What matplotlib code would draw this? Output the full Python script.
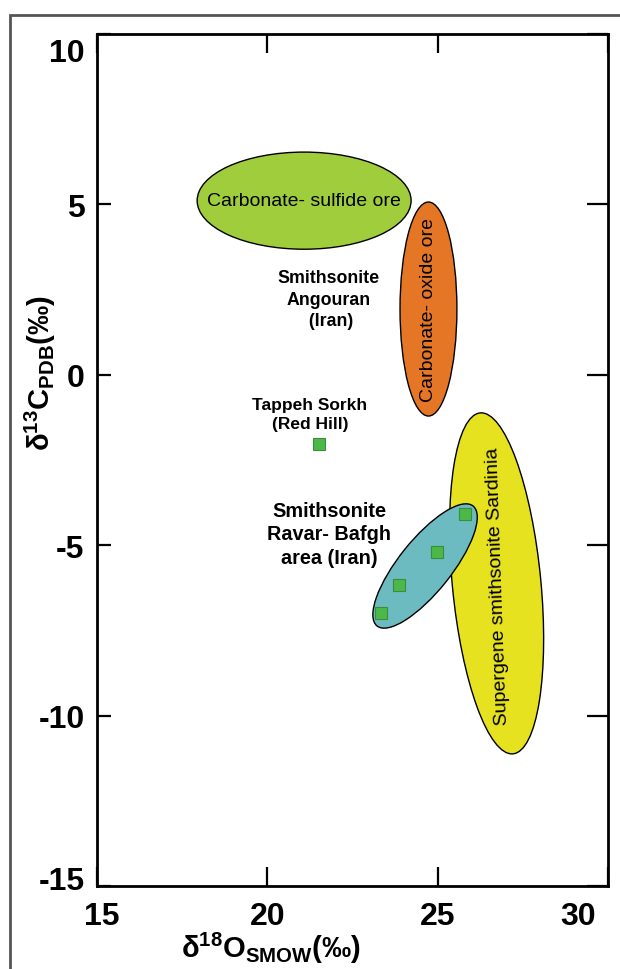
import matplotlib
matplotlib.use('Agg')
import matplotlib.pyplot as plt
from matplotlib.patches import Ellipse, Rectangle
from matplotlib.transforms import ScaledTranslation

plt.rcParams['font.family'] = ['Liberation Sans', 'DejaVu Sans']
plt.rcParams['mathtext.fontset'] = 'custom'
plt.rcParams['mathtext.bf'] = 'Liberation Sans:bold'
plt.rcParams['mathtext.rm'] = 'Liberation Sans:bold'
plt.rcParams['mathtext.default'] = 'bf'

# Smithsonite samples, Ravar-Bafgh area
ravar_d18o = [23.34, 23.86, 24.98, 25.80]
ravar_d13c = [-6.99, -6.17, -5.20, -4.08]
# Tappeh Sorkh (Red Hill)
tappeh_d18o = [21.52]
tappeh_d13c = [-2.03]

# isotope fields (ellipses): centre, width, height, angle
field_names = ['Carbonate- sulfide ore', 'Carbonate- oxide ore',
               'Supergene smithsonite Sardinia', '']
field_x = [21.08, 24.73, 26.73, 24.63]
field_y = [5.11, 1.93, -6.12, -5.61]
field_w = [6.28, 1.67, 10.05, 4.51]
field_h = [2.85, 6.28, 2.60, 1.54]
field_ang = [0, 0, 95.5, 51.3]
field_colors = ['#a0cd3c', '#e57625', '#e6e21f', '#6bbbc0']
field_text_rot = [0, 90, 92, 0]

xticks = [15, 20, 25, 30]
yticks = [10, 5, 0, -5, -10, -15]

fig = plt.figure(figsize=(6.2, 9.7), dpi=100)
ax = fig.add_axes([97/620, 1-887/970, 511/620, 852/970])

# outer frame of the figure
fig.patches.append(Rectangle((10/620, -0.1), 1.2, 1.1 - 16/970,
                             transform=fig.transFigure, fill=False,
                             edgecolor='#555555', linewidth=2.0))

for i in range(len(field_names)):
    e = Ellipse((field_x[i], field_y[i]), field_w[i], field_h[i],
                angle=field_ang[i], facecolor=field_colors[i],
                edgecolor='black', linewidth=1.0, zorder=2 + i)
    ax.add_patch(e)
    if field_names[i]:
        ax.text(field_x[i] + (0.04 if i == 2 else 0), field_y[i] - (0.05 if i == 2 else 0),
                field_names[i], rotation=field_text_rot[i],
                ha='center', va='center', fontsize=14, zorder=10)

ax.plot(ravar_d18o, ravar_d13c, 's', ms=9, mfc='#4cb848', mec='#3c8c3c',
        mew=0.8, zorder=11)
ax.plot(tappeh_d18o, tappeh_d13c, 's', ms=9, mfc='#4cb848', mec='#3c8c3c',
        mew=0.8, zorder=11)

bold = dict(fontweight='bold', ha='center', va='center', zorder=12)
ax.text(21.81, 2.22, 'Smithsonite\nAngouran\n (Iran)', fontsize=12.8,
        linespacing=1.35, **bold)
ax.text(21.25, -1.15, 'Tappeh Sorkh\n(Red Hill)', fontsize=12.5,
        linespacing=1.35, **bold)
ax.text(21.81, -4.67, 'Smithsonite\nRavar- Bafgh\narea (Iran)', fontsize=14.3,
        linespacing=1.3, **bold)

ax.set_xlim(15, 30)
ax.set_ylim(-15, 10)
ax.set_xticks(xticks)
ax.set_yticks(yticks)
ax.set_xticklabels([str(t) for t in xticks])
ax.set_yticklabels([str(t) for t in yticks])

for s in ax.spines.values():
    s.set_linewidth(2.0)

ax.tick_params(axis='both', direction='in', labelsize=23, width=1.6)
ax.tick_params(axis='x', top=True, length=14, pad=11)
ax.tick_params(axis='y', right=True, length=10, pad=9)
for tk in ax.yaxis.get_major_ticks():
    tk.tick2line.set_markersize(15)
for lbl in ax.get_xticklabels() + ax.get_yticklabels():
    lbl.set_fontweight('bold')

# nudge end labels inward like the reference
xl = ax.get_xticklabels()
xl[0].set_transform(xl[0].get_transform() + ScaledTranslation(5/100, 0, fig.dpi_scale_trans))
xl[-1].set_transform(xl[-1].get_transform() + ScaledTranslation(-30/100, 0, fig.dpi_scale_trans))
yl = ax.get_yticklabels()
yl[0].set_transform(yl[0].get_transform() + ScaledTranslation(0, -16/100, fig.dpi_scale_trans))
yl[-1].set_transform(yl[-1].get_transform() + ScaledTranslation(0, 8/100, fig.dpi_scale_trans))

ax.set_xlabel('δ$^{18}$O$_{SMOW}$(‰)', fontsize=21, fontweight='bold', va='center')
ax.set_ylabel('δ$^{13}$C$_{PDB}$(‰)', fontsize=21, fontweight='bold', va='center')
ax.xaxis.set_label_coords(0.34, -0.072)
ax.yaxis.set_label_coords(-0.11, 0.603)

fig.savefig('out.png', dpi=100)
